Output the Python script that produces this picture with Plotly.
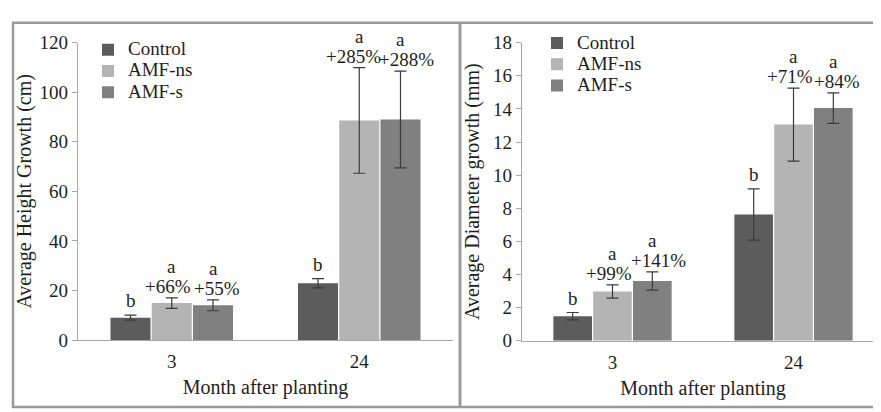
import plotly.graph_objects as go

# ---------------- data ----------------
months = ["3", "24"]
series = ["Control", "AMF-ns", "AMF-s"]
colors = ["#5c5c5c", "#b4b4b4", "#808080"]

height_vals = {"Control": [9.0, 22.9], "AMF-ns": [14.9, 88.6], "AMF-s": [14.0, 89.0]}
height_err = {"Control": [1.0, 1.9], "AMF-ns": [2.1, 21.3], "AMF-s": [2.2, 19.5]}
height_letters = {"Control": ["b", "b"], "AMF-ns": ["a", "a"], "AMF-s": ["a", "a"]}
height_pct = {"Control": ["", ""], "AMF-ns": ["+66%", "+285%"], "AMF-s": ["+55%", "+288%"]}

diam_vals = {"Control": [1.48, 7.62], "AMF-ns": [2.97, 13.05], "AMF-s": [3.6, 14.05]}
diam_err = {"Control": [0.22, 1.55], "AMF-ns": [0.4, 2.2], "AMF-s": [0.55, 0.92]}
diam_letters = {"Control": ["b", "b"], "AMF-ns": ["a", "a"], "AMF-s": ["a", "a"]}
diam_pct = {"Control": ["", ""], "AMF-ns": ["+99%", "+71%"], "AMF-s": ["+141%", "+84%"]}

FONT = "Times New Roman"
FS = 20
TXT = "#1e1e1e"
AX = "#a8a8a8"
W, H = 881, 412
BARGAP = 0.34

def px_x(v):
    return v / W

def px_y(v):
    return 1 - v / H

def fnt(size=FS):
    return dict(family=FONT, size=size, color=TXT)

fig = go.Figure()

panels = [
    dict(vals=height_vals, err=height_err, letters=height_letters, pct=height_pct,
         xa="x", ya="y", legend="legend"),
    dict(vals=diam_vals, err=diam_err, letters=diam_letters, pct=diam_pct,
         xa="x2", ya="y2", legend="legend2"),
]

annotations = []
bw = (1 - BARGAP) / len(series)
for p in panels:
    for s_i, s in enumerate(series):
        fig.add_trace(go.Bar(
            x=months, y=p["vals"][s],
            name=f"<span style='font-size:19px'>{s}</span>",
            marker=dict(color=colors[s_i], line=dict(width=0)),
            error_y=dict(type="data", array=p["err"][s], visible=True,
                         color="#3a3a3a", thickness=1.2, width=6),
            xaxis=p["xa"], yaxis=p["ya"], legend=p["legend"],
        ))
        for m_i, m in enumerate(months):
            top = p["vals"][s][m_i] + p["err"][s][m_i]
            xpos = m_i + (s_i - (len(series) - 1) / 2) * bw
            pct = p["pct"][s][m_i]
            letter = p["letters"][s][m_i]
            if pct:
                sign = -1 if s_i == 1 else 1
                xs = sign * (4 if len(pct) <= 4 else 6)
                annotations.append(dict(x=xpos, y=top, xref=p["xa"], yref=p["ya"],
                                        text=pct, showarrow=False, yanchor="bottom",
                                        xshift=xs, yshift=0, borderpad=0, font=fnt(19)))
                annotations.append(dict(x=xpos, y=top, xref=p["xa"], yref=p["ya"],
                                        text=letter, showarrow=False, yanchor="bottom",
                                        yshift=20, borderpad=0, font=fnt(19)))
            else:
                annotations.append(dict(x=xpos, y=top, xref=p["xa"], yref=p["ya"],
                                        text=letter, showarrow=False, yanchor="bottom",
                                        yshift=3, borderpad=0, font=fnt(19)))

axis_common = dict(showline=True, linecolor=AX, linewidth=1.2, showgrid=False,
                   zeroline=False, tickfont=fnt(19))

fig.update_layout(
    width=W, height=H,
    margin=dict(l=0, r=0, t=0, b=0),
    paper_bgcolor="white", plot_bgcolor="white",
    barmode="group", bargap=BARGAP, bargroupgap=0.03,
    font=fnt(),
    showlegend=True,
    xaxis=dict(domain=[px_x(70), px_x(445)], anchor="y", ticks="",
               ticklabelstandoff=4,
               title=dict(text="Month after planting", standoff=9, font=fnt()),
               **axis_common),
    yaxis=dict(domain=[px_y(339.3), px_y(26)], anchor="x", range=[0, 120], dtick=20,
               ticks="outside", ticklen=5, tickcolor=AX,
               title=dict(text="Average Height Growth (cm)", standoff=2, font=fnt()),
               **axis_common),
    xaxis2=dict(domain=[px_x(514), px_x(876)], anchor="y2", ticks="",
                ticklabelstandoff=4,
                title=dict(text="Month after planting", standoff=9, font=fnt()),
                **axis_common),
    yaxis2=dict(domain=[px_y(340), px_y(26)], anchor="x2", range=[0, 18], dtick=2,
                ticks="outside", ticklen=5, tickcolor=AX,
                title=dict(text="Average Diameter growth (mm)", standoff=8, font=fnt()),
                **axis_common),
    legend=dict(x=px_x(80), y=px_y(17), xanchor="left", yanchor="top",
                bgcolor="rgba(0,0,0,0)", font=fnt(14)),
    legend2=dict(x=px_x(529), y=px_y(10), xanchor="left", yanchor="top",
                 bgcolor="rgba(0,0,0,0)", font=fnt(14)),
    annotations=annotations,
    shapes=[
        dict(type="rect", xref="paper", yref="paper",
             x0=px_x(5), x1=px_x(879.5), y0=px_y(410), y1=px_y(5),
             line=dict(color="#9a9a9a", width=2.5), fillcolor="rgba(0,0,0,0)"),
        dict(type="line", xref="paper", yref="paper",
             x0=px_x(452), x1=px_x(452), y0=px_y(410), y1=px_y(5),
             line=dict(color="#9a9a9a", width=3)),
    ],
)

fig.write_html("out.html")
